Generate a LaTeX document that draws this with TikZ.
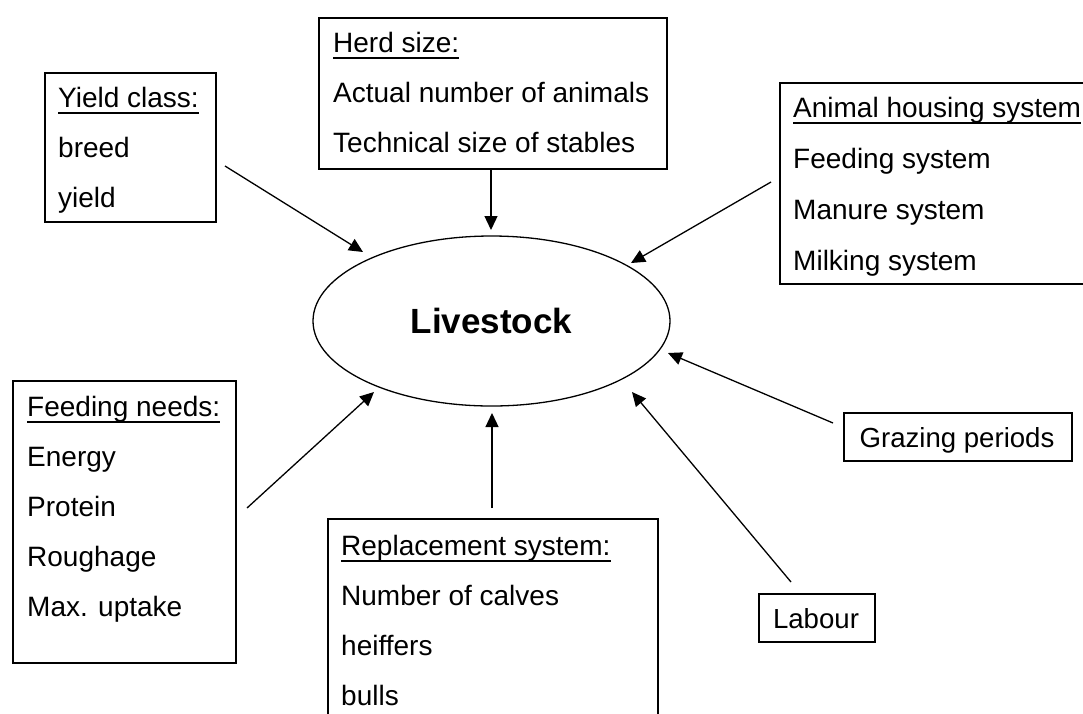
\documentclass[tikz,border=0pt]{standalone}
\usepackage{fontspec}
\setmainfont{Liberation Sans}
\usetikzlibrary{arrows.meta,shapes.geometric}
\begin{document}
\begin{tikzpicture}[x=1pt,y=-1pt,
  frame/.style={draw, line width=1.5pt, inner sep=0pt, anchor=north west},
  txt/.style={font=\fontsize{28}{34}\selectfont, inner sep=0pt, anchor=base west},
  ctxt/.style={font=\fontsize{27.6}{34}\selectfont, inner sep=0pt, anchor=base},
  uline/.style={line width=2pt},
  link/.style={line width=1.3pt, -{Triangle[length=14pt,width=13pt]}}]
\useasboundingbox (0,0) rectangle (1083,713);

% central ellipse
\node[draw, ellipse, line width=1.3pt, minimum width=357pt, minimum height=170pt,
      font=\bfseries\fontsize{35}{40}\selectfont] (ls) at (491.5,321) {Livestock};

% Yield class
\node[frame, minimum width=171pt, minimum height=149pt] (yb) at (44,72) {};
\node[txt] (y0) at (58,107) {Yield class:};
\node[txt] (y1) at (58,157) {breed};
\node[txt] (y2) at (58,207) {yield};
\draw[uline] ([yshift=-6pt]y0.base west) -- ([yshift=-6pt]y0.base east);

% Herd size
\node[frame, minimum width=348pt, minimum height=151pt] (hb) at (318,17) {};
\node[txt] (h0) at (333,52) {Herd size:};
\node[txt] (h1) at (333,102) {Actual number of animals};
\node[txt] (h2) at (333,152) {Technical size of stables};
\draw[uline] ([yshift=-6pt]h0.base west) -- ([yshift=-6pt]h0.base east);

% Animal housing system
\node[frame, minimum width=330pt, minimum height=201pt] (ab) at (779,82) {};
\node[txt] (a0) at (793,117) {Animal housing system};
\node[txt] (a1) at (793,168) {Feeding system};
\node[txt] (a2) at (793,219) {Manure system};
\node[txt] (a3) at (793,270) {Milking system};
\draw[uline] ([yshift=-6pt]a0.base west) -- ([yshift=-6pt]a0.base east);

% Feeding needs
\node[frame, minimum width=223pt, minimum height=282pt] (fb) at (12,380) {};
\node[txt] (f0) at (27,416) {Feeding needs:};
\node[txt] (f1) at (27,466) {Energy};
\node[txt] (f2) at (27,516) {Protein};
\node[txt] (f3) at (27,566) {Roughage};
\node[txt] (f4) at (27,616) {Max. uptake};
\draw[uline] ([yshift=-6pt]f0.base west) -- ([yshift=-6pt]f0.base east);

% Replacement system
\node[frame, minimum width=330pt, minimum height=230pt] (rb) at (327,518) {};
\node[txt] (r0) at (341,555) {Replacement system:};
\node[txt] (r1) at (341,605) {Number of calves};
\node[txt] (r2) at (341,655) {heiffers};
\node[txt] (r3) at (341,705) {bulls};
\draw[uline] ([yshift=-6pt]r0.base west) -- ([yshift=-6pt]r0.base east);

% Grazing periods
\node[frame, minimum width=228pt, minimum height=48pt] (gb) at (843,412) {};
\node[ctxt] (g0) at (957,447) {Grazing periods};

% Labour
\node[frame, minimum width=116pt, minimum height=48pt] (lb) at (758,593) {};
\node[ctxt] (l0) at (816,628) {Labour};

% connector ends
\coordinate (ys) at (225,166);  \coordinate (yt) at (363,252);
\coordinate (hs) at (491,168);  \coordinate (ht) at (491,230);
\coordinate (as) at (771,182);  \coordinate (at) at (631,263);
\coordinate (gs) at (833,423);  \coordinate (gt) at (668,353);
\coordinate (lsrc) at (791,582); \coordinate (lt) at (632,392);
\coordinate (rs) at (492,508);  \coordinate (rt) at (492,413);
\coordinate (fs) at (247,508);  \coordinate (ft) at (374,392);

\draw[link] (ys) -- (yt);
\draw[link] (hs) -- (ht);
\draw[link] (as) -- (at);
\draw[link] (gs) -- (gt);
\draw[link] (lsrc) -- (lt);
\draw[link] (rs) -- (rt);
\draw[link] (fs) -- (ft);
\end{tikzpicture}
\end{document}
